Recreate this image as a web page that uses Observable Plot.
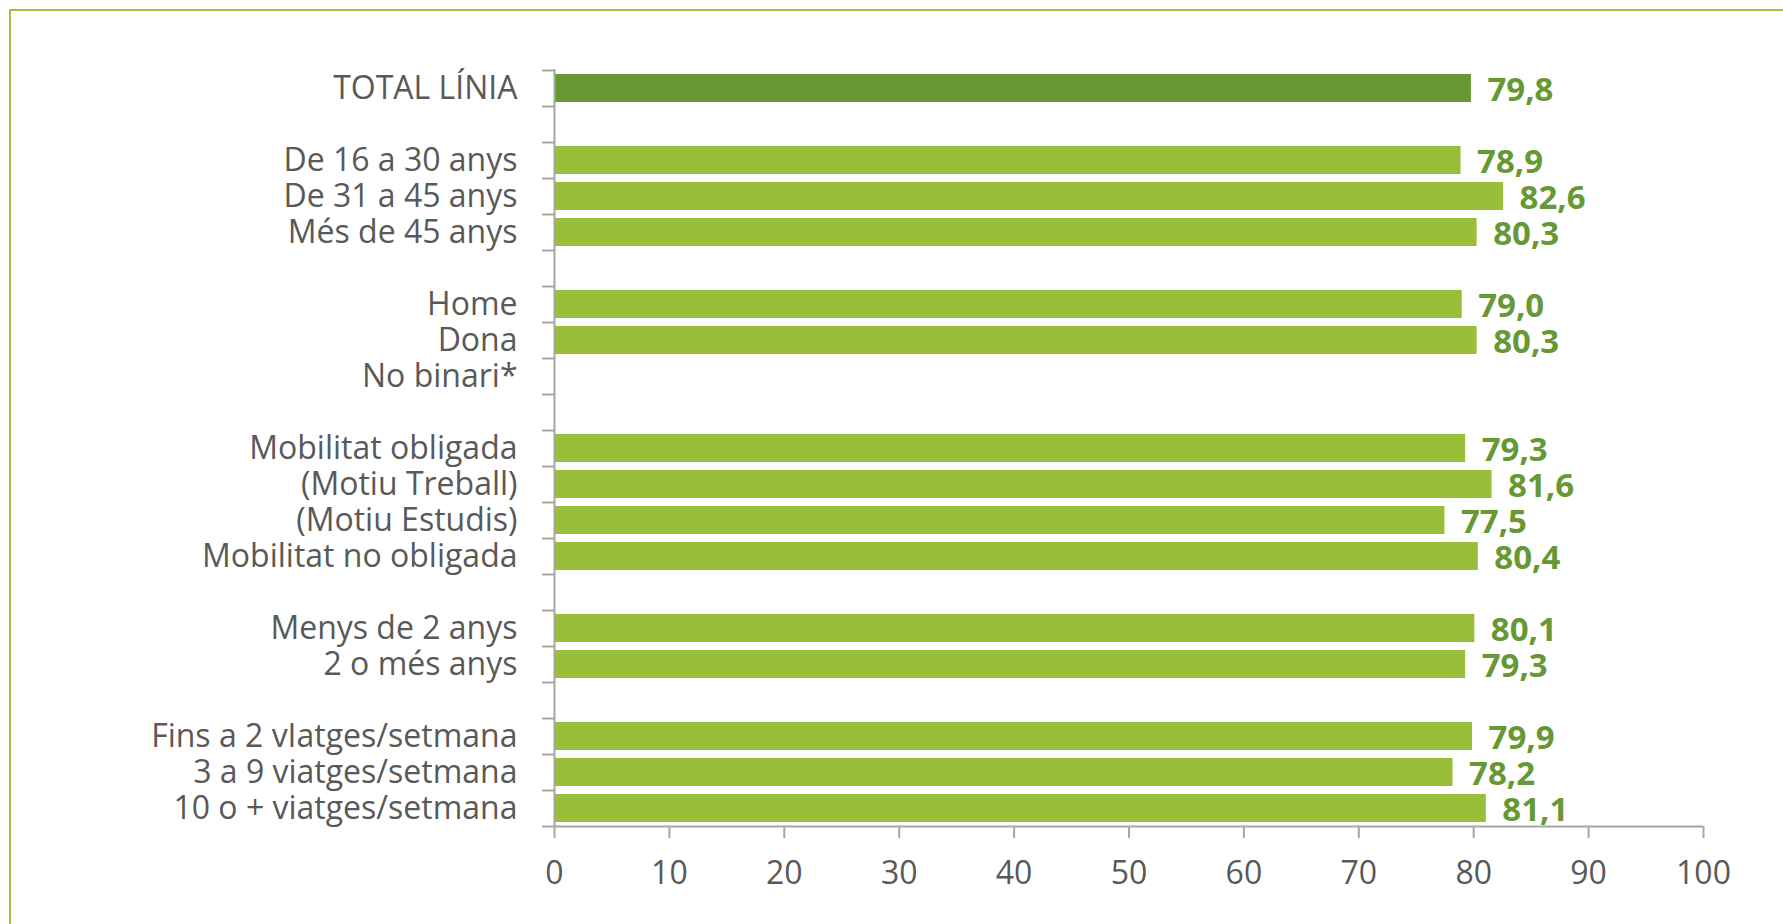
<!DOCTYPE html>
<html>
<head>
<meta charset="utf-8">
<script src="https://cdn.jsdelivr.net/npm/d3@7"></script>
<script src="https://cdn.jsdelivr.net/npm/@observablehq/plot@0.6"></script>
<style>
  html, body { margin: 0; padding: 0; background: #fff; }
  #wrap { position: relative; width: 1783px; height: 924px; overflow: hidden; background: #fff; }
  #frame { position: absolute; left: 9px; top: 9px; width: 1900px; height: 1000px; border: 2px solid #9DC33F; box-sizing: border-box; pointer-events: none; }
  #chart { position: absolute; left: 0; top: 0; }
</style>
</head>
<body>
<div id="wrap">
  <div id="chart"></div>
  <div id="frame"></div>
</div>
<script>
const categories = [
  "TOTAL LÍNIA",
  "",
  "De 16 a 30 anys",
  "De 31 a 45 anys",
  "Més de 45 anys",
  "",
  "Home",
  "Dona",
  "No binari*",
  "",
  "Mobilitat obligada",
  "(Motiu Treball)",
  "(Motiu Estudis)",
  "Mobilitat no obligada",
  "",
  "Menys de 2 anys",
  "2 o més anys",
  "",
  "Fins a 2 vIatges/setmana",
  "3 a 9 viatges/setmana",
  "10 o + viatges/setmana"
];
const values = [
  79.8, null,
  78.9, 82.6, 80.3, null,
  79.0, 80.3, null, null,
  79.3, 81.6, 77.5, 80.4, null,
  80.1, 79.3, null,
  79.9, 78.2, 81.1
];
const isTotal = categories.map((c, i) => i === 0);
const xTicks = [0, 10, 20, 30, 40, 50, 60, 70, 80, 90, 100];

const rows = categories.map((c, i) => ({key: i, label: c, value: values[i], total: isTotal[i]}));
const withValue = rows.filter(d => d.value != null);
const keys = rows.map(d => d.key);
const lastKey = keys[keys.length - 1];

const axisColor = "#A6A6A6";
const darkGreen = "#669933";
const lightGreen = "#99BF3A";
const fmt = v => v.toFixed(1).replace(".", ",");

const chart = Plot.plot({
  width: 1783,
  height: 924,
  marginLeft: 554,
  marginRight: 80,
  marginTop: 69,
  marginBottom: 98,
  style: {fontFamily: "'Open Sans', sans-serif", fontSize: "32px", color: "#595959", background: "transparent", overflow: "visible"},
  x: {domain: [0, 100], axis: null},
  y: {domain: keys, padding: 0, axis: null},
  marks: [
    Plot.barX(withValue, {x: "value", y: "key", insetTop: 4, insetBottom: 4, fill: d => d.total ? darkGreen : lightGreen}),
    Plot.ruleX([0], {stroke: axisColor, strokeWidth: 2}),
    Plot.ruleY([lastKey], {y: d => d, dy: 18, stroke: axisColor, strokeWidth: 2}),
    Plot.axisY({label: null, tickSize: 0, tickPadding: 37, tickFormat: k => categories[k], fontSize: 32, fill: "#595959"}),
    Plot.axisY({label: null, tickSize: 12, tickFormat: null, text: null, dy: -18, stroke: axisColor, strokeWidth: 2}),
    Plot.axisY([lastKey], {label: null, tickSize: 12, tickFormat: null, text: null, dy: 18, stroke: axisColor, strokeWidth: 2}),
    Plot.axisX({label: null, ticks: xTicks, tickSize: 12, tickPadding: 23, stroke: axisColor, strokeWidth: 2, fill: "#595959", fontSize: 32, tickFormat: d => String(d)}),
    Plot.text(withValue, {x: "value", y: "key", text: d => fmt(d.value), dx: 16, dy: 2, textAnchor: "start", fill: darkGreen, fontWeight: "bold", fontSize: 33})
  ]
});
document.getElementById("chart").appendChild(chart);
</script>
</body>
</html>
